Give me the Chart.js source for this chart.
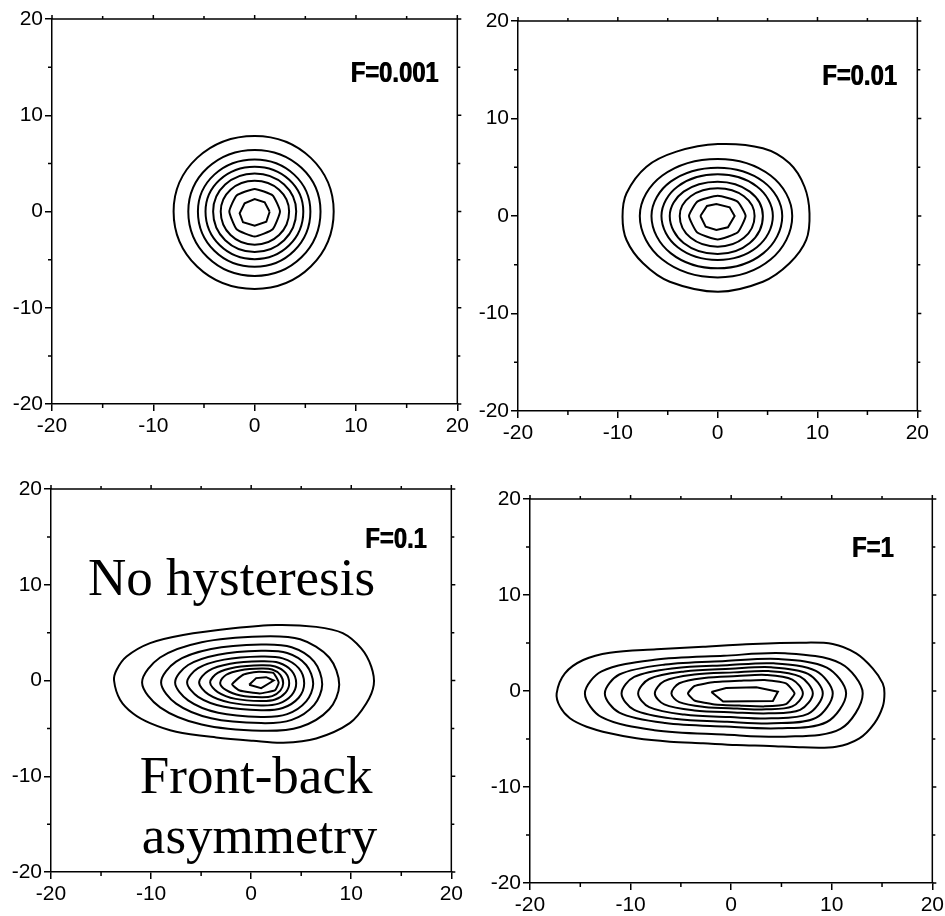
<!DOCTYPE html>
<html>
<head>
<meta charset="utf-8">
<script src="https://cdn.jsdelivr.net/npm/chart.js@4.4.1/dist/chart.umd.min.js"></script>
<style>
  html, body { margin: 0; padding: 0; background: #fff; overflow: hidden; }
  body { width: 945px; height: 916px; position: relative; }
  canvas { position: absolute; }
</style>
</head>
<body>
<canvas id="p1"></canvas>
<canvas id="p2"></canvas>
<canvas id="p3"></canvas>
<canvas id="p4"></canvas>
<script>
// --- Data ---
const majorTicks = [-20, -10, 0, 10, 20];
const minorTicks = [-15, -5, 5, 15];
const panelLabels = ['F=0.001', 'F=0.01', 'F=0.1', 'F=1'];
const notes = ['No hysteresis', 'Front-back', 'asymmetry'];

// contour rings, outermost first, [x, y]
const ringsF0001 = [
  [[7.8,0],[5.54,5.57],[0,7.85],[-5.68,5.57],[-8,0],[-5.68,-5.72],[0,-8.05],[5.54,-5.72]],
  [[6.5,0],[4.62,4.54],[0,6.4],[-4.65,4.54],[-6.55,0],[-4.65,-4.76],[0,-6.7],[4.62,-4.76]],
  [[5.5,0],[3.9,3.83],[0,5.4],[-3.98,3.83],[-5.6,0],[-3.98,-4.08],[0,-5.75],[3.9,-4.08]],
  [[4.8,0],[3.41,3.3],[0,4.65],[-3.44,3.3],[-4.85,0],[-3.44,-3.51],[0,-4.95],[3.41,-3.51]],
  [[4.1,0],[2.91,2.8],[0,3.95],[-2.91,2.8],[-4.1,0],[-2.91,-2.98],[0,-4.2],[2.91,-2.98]],
  [[3.4,0],[2.41,2.27],[0,3.2],[-2.38,2.27],[-3.35,0],[-2.38,-2.45],[0,-3.45],[2.41,-2.45]],
  [[2.5,0],[1.78,1.67],[0,2.35],[-1.78,1.67],[-2.5,0],[-1.78,-1.85],[0,-2.6],[1.78,-1.85]],
  [[1.48,-0.02],[0.99,0.95],[0,1.3],[-0.99,0.85],[-1.48,-0.19],[-1.15,-1.12],[0,-1.47],[1.15,-1.06]]
];

const ringsF001 = [
  [[-9.53,-0.07],[-9.13,2.33],[-7.13,5.06],[-4.13,6.6],[0.03,7.38],[4.53,6.94],[7.2,5.4],[8.7,3.0],
   [9.2,0.27],[8.87,-2.46],[7.2,-4.85],[4.53,-6.74],[0.03,-7.76],[-4.8,-6.74],[-7.47,-4.85],[-9.13,-2.46]],
  [[7.47,0],[5.3,4.15],[0,5.85],[-5.54,4.15],[-7.8,0],[-5.54,-4.47],[0,-6.3],[5.3,-4.47]],
  [[6.47,0],[4.59,3.52],[0,4.96],[-4.71,3.52],[-6.63,0],[-4.71,-3.81],[0,-5.37],[4.59,-3.81]],
  [[5.53,0],[3.93,3.03],[0,4.27],[-4.0,3.03],[-5.63,0],[-4.0,-3.2],[0,-4.5],[3.93,-3.2]],
  [[4.53,0],[3.22,2.5],[0,3.52],[-3.41,2.5],[-4.8,0],[-3.41,-2.77],[0,-3.9],[3.22,-2.77]],
  [[3.7,0],[2.63,2.02],[0,2.84],[-2.7,2.02],[-3.8,0],[-2.7,-2.24],[0,-3.15],[2.63,-2.24]],
  [[2.8,0],[1.99,1.48],[0,2.08],[-2.04,1.48],[-2.87,0],[-2.04,-1.7],[0,-2.4],[1.99,-1.7]],
  [[-1.73,0],[-1.07,1.03],[-0.13,1.23],[1.2,0.89],[1.7,0],[1.03,-1.16],[-0.13,-1.44],[-1.2,-1.09]]
];

const ringsF01 = [
  [[-13.7,0.0],[-13.45,1.1],[-12.45,2.5],[-10.1,3.9],[-6.8,4.75],[-1.8,5.45],[2.5,5.8],[6.5,5.6],
   [9.15,4.95],[11.0,3.35],[12.0,1.45],[12.25,-0.45],[11.5,-2.4],[9.85,-4.45],[6.5,-6.05],[3.2,-6.5],
   [0.2,-6.3],[-3.5,-5.95],[-7.5,-5.35],[-10.1,-4.45],[-11.8,-3.45],[-13.1,-2.0]],
  [[-10.9,-0.2],[-9.1,2.4],[-4.95,4.0],[1,4.6],[4.9,4.3],[7.8,2.4],[8.8,-0.45],[7.8,-3.0],[4.9,-4.85],[1,-5.25],[-4.95,-4.6],[-9.1,-2.8]],
  [[-9.0,-0.2],[-7.5,1.97],[-4.0,3.28],[1,3.75],[4.05,3.47],[6.3,1.97],[7.1,-0.4],[6.3,-2.54],[4.05,-4.11],[1,-4.45],[-4.0,-3.94],[-7.5,-2.41]],
  [[-7.6,-0.2],[-6.3,1.62],[-3.3,2.7],[1,3.1],[3.6,2.87],[5.5,1.62],[6.2,-0.35],[5.5,-2.18],[3.6,-3.51],[1,-3.8],[-3.3,-3.37],[-6.3,-2.07]],
  [[-6.4,-0.2],[-5.3,1.29],[-2.7,2.18],[1,2.5],[3.15,2.31],[4.75,1.29],[5.3,-0.3],[4.75,-1.8],[3.15,-2.87],[1,-3.1],[-2.7,-2.75],[-5.3,-1.71]],
  [[-5.2,-0.2],[-4.27,1.01],[-2.1,1.74],[1,2.0],[2.75,1.85],[4.05,1.01],[4.5,-0.3],[4.05,-1.52],[2.75,-2.41],[1,-2.6],[-2.1,-2.31],[-4.27,-1.45]],
  [[-4.1,-0.2],[-3.34,0.79],[-1.55,1.38],[1,1.6],[2.4,1.47],[3.44,0.79],[3.8,-0.3],[3.44,-1.27],[2.4,-1.99],[1,-2.15],[-1.55,-1.92],[-3.34,-1.21]],
  [[-3.1,-0.25],[-2.49,0.6],[-1.05,1.08],[1,1.25],[2.1,1.15],[2.91,0.6],[3.2,-0.3],[2.91,-1.05],[2.1,-1.63],[1,-1.75],[-1.05,-1.56],[-2.49,-1.01]],
  [[-1.9,-0.4],[-0.8,0.6],[0.5,0.9],[2.2,0.8],[2.75,-0.2],[2.4,-1.0],[0.85,-1.35],[-1.15,-1.05]],
  [[-0.2,-0.45],[0.5,0.25],[1.5,0.35],[2.25,0.0],[1.0,-0.8]]
];

const ringsF1 = [
  [[-17.35,-0.24],[-16.53,1.84],[-14.71,3.23],[-12.06,3.99],[-7.43,4.34],[-2.8,4.62],[2.16,4.9],[6.8,5.03],
   [10.1,4.9],[12.43,3.92],[14.07,2.36],[15.07,0.8],[15.24,-0.24],[15.07,-1.63],[14.24,-3.37],[12.75,-4.93],
   [10.44,-5.8],[7.13,-5.87],[3.82,-5.73],[0.52,-5.63],[-2.8,-5.45],[-6.1,-5.28],[-9.41,-4.93],[-12.06,-4.41],
   [-14.37,-3.72],[-16.03,-2.84],[-17.02,-1.63]],
  [[-14.54,-0.25],[-12.88,2.04],[-7.64,3.25],[-0.73,3.67],[5.35,3.92],[10.87,2.88],[13.08,-0.25],[10.87,-3.95],[5.35,-4.76],[-0.73,-4.53],[-7.64,-4.08],[-12.88,-2.73]],
  [[-12.56,-0.25],[-11.12,1.72],[-6.56,2.76],[-0.57,3.12],[4.71,3.33],[9.51,2.44],[11.43,-0.25],[9.51,-3.23],[4.71,-3.89],[-0.57,-3.71],[-6.56,-3.34],[-11.12,-2.25]],
  [[-10.9,-0.25],[-9.64,1.47],[-5.65,2.38],[-0.4,2.69],[4.22,2.88],[8.42,2.1],[10.1,-0.25],[8.42,-2.81],[4.22,-3.37],[-0.4,-3.21],[-5.65,-2.9],[-9.64,-1.97]],
  [[-9.25,-0.25],[-8.15,1.25],[-4.66,2.03],[-0.07,2.31],[3.97,2.47],[7.64,1.79],[9.11,-0.25],[7.64,-2.38],[3.97,-2.85],[-0.07,-2.72],[-4.66,-2.46],[-8.15,-1.68]],
  [[-7.59,-0.25],[-6.65,1.03],[-3.66,1.71],[0.27,1.94],[3.72,2.08],[6.86,1.5],[8.12,-0.25],[6.86,-1.96],[3.72,-2.33],[0.27,-2.23],[-3.66,-2.02],[-6.65,-1.39]],
  [[-5.94,-0.25],[-5.16,0.81],[-2.67,1.36],[0.6,1.55],[3.47,1.67],[6.08,1.19],[7.13,-0.25],[6.08,-1.61],[3.47,-1.91],[0.6,-1.83],[-2.67,-1.66],[-5.16,-1.16]],
  [[-4.29,-0.25],[-3.65,0.52],[-1.64,0.93],[1.0,1.07],[3.33,1.15],[5.45,0.8],[6.3,-0.25],[5.45,-1.36],[3.33,-1.6],[1.0,-1.53],[-1.64,-1.4],[-3.65,-0.99]],
  [[-1.97,-0.1],[-0.5,0.3],[2.5,0.38],[4.65,-0.07],[4.15,-1.05],[-0.8,-1.1]]
];

// --- Layout ---
const Y_AXIS_W = 52, X_AXIS_H = 50, PAD_TOP = 19, PAD_RIGHT = 14;
const panels = [
  { id: 'p1', rings: ringsF0001, area: [52, 19, 406, 385], label: [18.2, 13.45] },
  { id: 'p2', rings: ringsF001,  area: [518, 21, 400, 390], label: [18.0, 13.45] },
  { id: 'p3', rings: ringsF01,   area: [51, 489, 401, 383], label: [17.6, 13.85],
    notes: [[-16.3, 8.93], [-11.12, -11.75], [-10.92, -18.02]] },
  { id: 'p4', rings: ringsF1,    area: [530, 499, 403, 384], label: [16.2, 13.95] }
];

// --- Helpers ---
// ring -> closed point list; one extra point each side so the curve closes smoothly
function closeRing(pts) {
  const n = pts.length;
  return [pts[n - 1], ...pts, pts[0], pts[1]].map(p => ({ x: p[0], y: p[1] }));
}
function ringTension(i, count, nPts) {
  if (i === count - 1) return 0;
  if (i === count - 2) return 0.15;
  return nPts > 8 ? 0.32 : 0.38;
}

const framePlugin = {
  id: 'frame',
  afterDraw(chart, args, opts) {
    const { ctx, chartArea: a } = chart;
    const x = chart.scales.x, y = chart.scales.y;
    ctx.save();
    ctx.strokeStyle = '#000';
    ctx.lineWidth = 1.5;
    ctx.beginPath();
    ctx.moveTo(a.left, a.top);
    ctx.lineTo(a.right, a.top);
    ctx.lineTo(a.right, a.bottom);
    minorTicks.forEach(v => {
      const px = x.getPixelForValue(v), py = y.getPixelForValue(v);
      ctx.moveTo(px, a.bottom); ctx.lineTo(px, a.bottom + 4);
      ctx.moveTo(px, a.top); ctx.lineTo(px, a.top - 3);
      ctx.moveTo(a.left, py); ctx.lineTo(a.left - 4, py);
      ctx.moveTo(a.right, py); ctx.lineTo(a.right + 3, py);
    });
    majorTicks.forEach(v => {
      const px = x.getPixelForValue(v), py = y.getPixelForValue(v);
      ctx.moveTo(px, a.top); ctx.lineTo(px, a.top - 4);
      ctx.moveTo(a.right, py); ctx.lineTo(a.right + 4, py);
    });
    ctx.stroke();

    // panel label, heavy and squeezed (drawn twice, a hair apart, to thicken it)
    ctx.fillStyle = '#000';
    ctx.font = 'bold 29px "Liberation Sans", Arial, sans-serif';
    ctx.textAlign = 'right';
    ctx.textBaseline = 'alphabetic';
    ctx.save();
    ctx.translate(x.getPixelForValue(opts.label[0]), y.getPixelForValue(opts.label[1]));
    ctx.scale(0.82, 1);
    ctx.fillText(opts.text, 0, 0);
    ctx.fillText(opts.text, -0.9, 0);
    ctx.restore();

    if (opts.notes) {
      ctx.font = '53px "Liberation Serif", "Times New Roman", serif';
      ctx.textAlign = 'left';
      opts.notes.forEach((p, i) => {
        ctx.fillText(notes[i], x.getPixelForValue(p[0]), y.getPixelForValue(p[1]));
      });
    }
    ctx.restore();
  }
};

function axis(pos, fit) {
  return {
    type: 'linear',
    position: pos,
    min: -20,
    max: 20,
    afterBuildTicks: s => { s.ticks = majorTicks.map(v => ({ value: v })); },
    afterFit: fit,
    ticks: { color: '#000', padding: pos === 'bottom' ? 3 : 2, maxRotation: 0, autoSkip: false,
             font: { size: 21 } },
    grid: { drawOnChartArea: false, drawTicks: true, tickLength: 7, color: '#000', lineWidth: 1.5 },
    border: { display: true, color: '#000', width: 1.5 }
  };
}

Chart.defaults.font.family = '"Liberation Sans", Arial, sans-serif';

panels.forEach((p, pi) => {
  const [left, top, w, h] = p.area;
  const el = document.getElementById(p.id);
  el.width = Y_AXIS_W + w + PAD_RIGHT;
  el.height = PAD_TOP + h + X_AXIS_H;
  el.style.left = (left - Y_AXIS_W) + 'px';
  el.style.top = (top - PAD_TOP) + 'px';

  const datasets = p.rings.map((r, i) => ({
    data: closeRing(r),
    showLine: true,
    borderColor: '#000',
    borderWidth: 2,
    pointRadius: 0,
    tension: ringTension(i, p.rings.length, r.length),
    segment: {
      borderColor: c => (c.p0DataIndex === 0 || c.p1DataIndex === r.length + 2) ? 'rgba(0,0,0,0)' : undefined
    }
  }));

  new Chart(el, {
    type: 'scatter',
    data: { datasets },
    options: {
      responsive: false,
      animation: false,
      devicePixelRatio: 1,
      layout: { padding: { top: PAD_TOP, right: PAD_RIGHT, left: 0, bottom: 0 } },
      plugins: {
        legend: { display: false },
        tooltip: { enabled: false },
        frame: { text: panelLabels[pi], label: p.label, notes: p.notes }
      },
      scales: {
        x: axis('bottom', s => { s.height = X_AXIS_H; }),
        y: axis('left', s => { s.width = Y_AXIS_W; })
      }
    },
    plugins: [framePlugin]
  });
});
</script>
</body>
</html>
